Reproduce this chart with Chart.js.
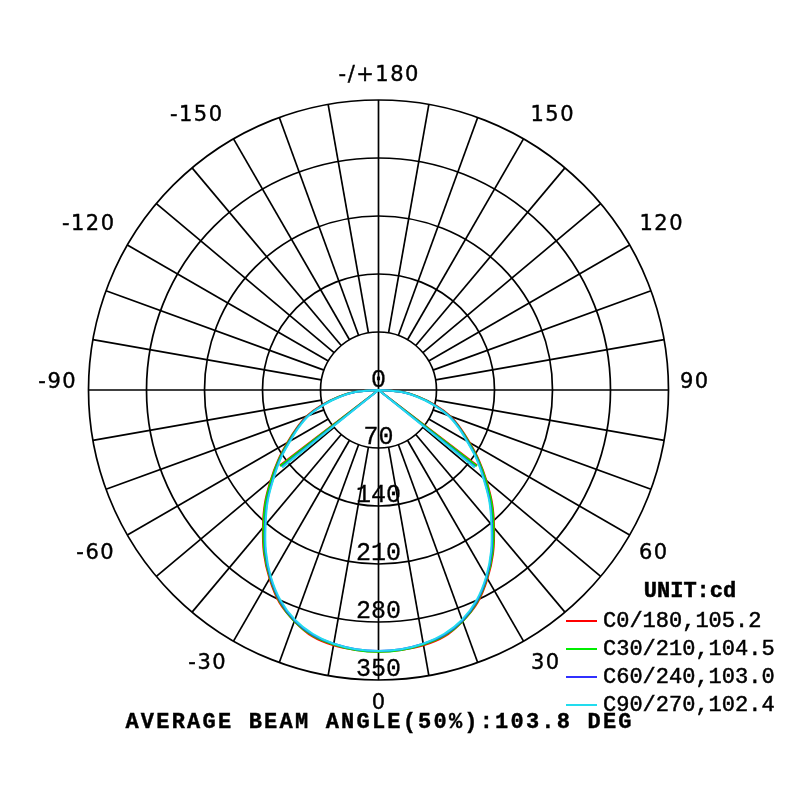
<!DOCTYPE html>
<html>
<head>
<meta charset="utf-8">
<title>Polar intensity curve</title>
<script src="https://cdn.jsdelivr.net/npm/chart.js@4.4.1/dist/chart.umd.min.js"></script>
<style>
  html, body { margin: 0; padding: 0; background: #fff; }
  canvas { display: block; }
</style>
</head>
<body>
<canvas id="polarChart" width="800" height="800"></canvas>
<script>
// gamma angles (deg from nadir) and intensity (cd)
const gammaDeg = [0, 5, 10, 15, 20, 25, 30, 35, 40, 45, 50, 55, 60, 65, 70, 75, 80, 85, 90];
const c0Values  = [316, 315, 313, 308, 297, 283, 263, 241, 217, 194, 170, 148, 127, 109, 92, 71, 50, 30, 0];
const c30Values = [316, 315, 312, 307, 297, 282, 262, 240, 216, 193, 169, 147, 126, 108, 91, 70, 49, 29, 0];
const c60Values = [315, 314, 311, 306, 296, 281, 261, 238, 213, 190, 166, 145, 124, 107, 90, 69, 48, 28, 0];
const c90Values = [315, 314, 311, 305, 295, 280, 260, 237, 212, 189, 165, 144, 123, 106, 89, 68, 47, 28, 0];

const seriesNames = ['C0/180,105.2', 'C30/210,104.5', 'C60/240,103.0', 'C90/270,102.4'];
const beamAngles = [105.2, 104.5, 103.0, 102.4];
const beamIntensity = [150, 150, 149, 149];
const seriesColors = ['#ff0000', '#00ee00', '#3030ff', '#22dcee'];

const ringValues = [70, 140, 210, 280, 350];
const angleLabels = ['0', '30', '60', '90', '120', '150', '-/+180', '-150', '-120', '-90', '-60', '-30'];
const titleText = 'AVERAGE BEAM ANGLE(50%):103.8 DEG';
const unitText = 'UNIT:cd';

function toXY(deg, value) {
    const rad = deg * Math.PI / 180;
    return { x: value * Math.sin(rad), y: -value * Math.cos(rad) };
}

function buildCurve(values) {
    const pts = [];
    for (let i = gammaDeg.length - 1; i > 0; i--) pts.push(toXY(-gammaDeg[i], values[i]));
    for (let i = 0; i < gammaDeg.length; i++) pts.push(toXY(gammaDeg[i], values[i]));
    return pts;
}

function buildBeam(beam, beamI) {
    return [toXY(-beam / 2, beamI), toXY(0, 0), toXY(beam / 2, beamI)];
}

const allValues = [c0Values, c30Values, c60Values, c90Values];

// label offsets from the pole, in pixels
const labelOffsets = {
    '0': [0, 312], '30': [166.5, 272], '60': [274.5, 162], '90': [315.5, -9],
    '120': [282.5, -167], '150': [173.5, -276], '-/+180': [0, -316],
    '-150': [-182.5, -276], '-120': [-290.5, -167], '-90': [-321.5, -9],
    '-60': [-283.5, 162], '-30': [-171.5, 272]
};

function heavyText(ctx, text, x, y, w) {
    ctx.fillText(text, x, y);
    ctx.lineWidth = w;
    ctx.strokeText(text, x, y);
}

const polarGrid = {
    id: 'polarGrid',
    beforeDatasetsDraw(chart) {
        const { ctx, scales: { x, y } } = chart;
        const cx = x.getPixelForValue(0);
        const cy = y.getPixelForValue(0);
        const px = v => x.getPixelForValue(v) - cx;
        const rMax = px(ringValues[ringValues.length - 1]);
        const rMin = px(ringValues[0]);

        ctx.save();
        ctx.strokeStyle = '#000';
        ctx.lineWidth = 1.7;
        ringValues.forEach(v => {
            ctx.beginPath();
            ctx.arc(cx, cy, px(v), 0, Math.PI * 2);
            ctx.stroke();
        });
        for (let a = 0; a < 360; a += 10) {
            const rad = a * Math.PI / 180;
            const start = a % 90 === 0 ? 0 : rMin;
            ctx.beginPath();
            ctx.moveTo(cx + start * Math.sin(rad), cy + start * Math.cos(rad));
            ctx.lineTo(cx + rMax * Math.sin(rad), cy + rMax * Math.cos(rad));
            ctx.stroke();
        }

        ctx.fillStyle = '#000';
        ctx.strokeStyle = '#000';
        ctx.textAlign = 'center';
        ctx.textBaseline = 'middle';
        ctx.font = '25px "Liberation Mono", "DejaVu Sans Mono", monospace';
        heavyText(ctx, '0', cx, cy - 10, 0.3);
        ringValues.forEach(v => heavyText(ctx, String(v), cx, cy + px(v) - 11, 0.3));

        ctx.font = '21px "DejaVu Sans", sans-serif';
        ctx.letterSpacing = '1.5px';
        angleLabels.forEach(t => {
            const [dx, dy] = labelOffsets[t];
            heavyText(ctx, t, cx + dx + 0.75, cy + dy + 2, 0.4);
        });
        ctx.restore();
    },
    afterDraw(chart) {
        const { ctx, scales: { x } } = chart;
        const cx = x.getPixelForValue(0);
        ctx.save();
        ctx.fillStyle = '#000';
        ctx.strokeStyle = '#000';
        ctx.textBaseline = 'middle';

        ctx.font = 'bold 22px "Liberation Mono", monospace';
        ctx.textAlign = 'center';
        heavyText(ctx, unitText, 690, 591, 0.5);

        ctx.font = '22px "Liberation Mono", monospace';
        ctx.textAlign = 'left';
        seriesNames.forEach((name, i) => {
            const ly = 621 + i * 28;
            ctx.strokeStyle = seriesColors[i];
            ctx.lineWidth = 2;
            ctx.beginPath();
            ctx.moveTo(566, ly);
            ctx.lineTo(597, ly);
            ctx.stroke();
            ctx.strokeStyle = '#000';
            heavyText(ctx, name, 603, ly, 0.5);
        });

        ctx.font = 'bold 22px "Liberation Mono", monospace';
        ctx.letterSpacing = '2.2px';
        ctx.textAlign = 'center';
        heavyText(ctx, titleText, cx + 1.1, 722, 0.4);
        ctx.restore();
    }
};

const curveSets = allValues.map((vals, i) => ({
    label: seriesNames[i],
    data: buildCurve(vals),
    showLine: true,
    borderColor: seriesColors[i],
    borderWidth: 2,
    pointRadius: 0,
    tension: 0.35,
    order: 3 - i
}));
const beamSets = allValues.map((vals, i) => ({
    label: seriesNames[i] + ' beam',
    data: buildBeam(beamAngles[i], beamIntensity[i]),
    showLine: true,
    borderColor: seriesColors[i],
    borderWidth: 2,
    pointRadius: 0,
    tension: 0,
    order: 3 - i
}));

new Chart(document.getElementById('polarChart'), {
    type: 'scatter',
    data: { datasets: curveSets.concat(beamSets) },
    options: {
        responsive: false,
        animation: false,
        layout: { padding: { left: 88.5, right: 131.5, top: 100, bottom: 120 } },
        scales: {
            x: { type: 'linear', min: -350, max: 350, display: false },
            y: { type: 'linear', min: -350, max: 350, display: false }
        },
        plugins: {
            legend: { display: false },
            tooltip: { enabled: false }
        }
    },
    plugins: [polarGrid]
});
</script>
</body>
</html>
